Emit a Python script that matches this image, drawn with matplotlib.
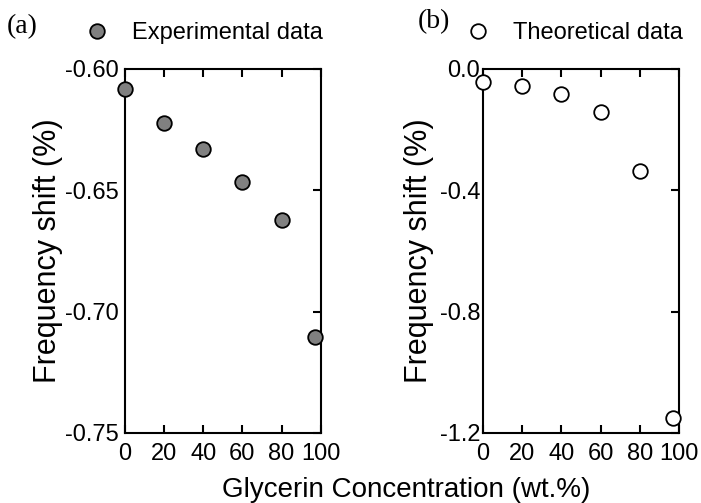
import matplotlib
matplotlib.use("Agg")
import matplotlib.pyplot as plt

# -----------------------------------
# Data
# -----------------------------------

conc = [0, 20, 40, 60, 80, 97]
exp_shift = [-0.6084, -0.6224, -0.6329, -0.6465, -0.6622, -0.7105]
theo_shift = [-0.042, -0.056, -0.083, -0.143, -0.335, -1.151]

x_ticks = [0, 20, 40, 60, 80, 100]
exp_ticks = [-0.60, -0.65, -0.70, -0.75]
theo_ticks = [0.0, -0.4, -0.8, -1.2]

plt.rcParams["font.family"] = ["Liberation Sans", "DejaVu Sans"]

fig = plt.figure(figsize=(7.01, 5.03), dpi=100)

ax_a = fig.add_axes([0.1783, 0.1392, 0.2792, 0.7237])
ax_b = fig.add_axes([0.6890, 0.1392, 0.2796, 0.7237])


def style_axes(ax, yticks, fmt, ypad, label_x):
    ax.set_xlim(0, 100)
    ax.set_xticks(x_ticks)
    ax.set_yticks(yticks)
    ax.set_yticklabels([fmt.format(v) for v in yticks])
    ax.set_ylim(min(yticks), max(yticks))
    ax.tick_params(
        direction="in", length=5.5, width=1.5, labelsize=17,
        top=True, bottom=True, left=False, right=True,
        labelleft=True, labelright=False
    )
    ax.tick_params(axis="x", pad=7)
    ax.tick_params(axis="y", pad=ypad)
    for sp in ax.spines.values():
        sp.set_linewidth(1.5)
    ax.set_ylabel("Frequency shift (%)", fontsize=22)
    ax.yaxis.label.set_verticalalignment("center")
    ax.yaxis.set_label_coords(label_x, 0.5)


# -----------------------------------
# (a) Experimental
# -----------------------------------

ax_a.plot(
    conc, exp_shift, "o", ls="none",
    markersize=10.5, markerfacecolor="#808080",
    markeredgecolor="black", markeredgewidth=1.3,
    clip_on=False, zorder=5, label="Experimental data"
)
style_axes(ax_a, exp_ticks, "{:.2f}", 4.5, -0.391)

# -----------------------------------
# (b) Theoretical
# -----------------------------------

ax_b.plot(
    conc, theo_shift, "o", ls="none",
    markersize=10.5, markerfacecolor="white",
    markeredgecolor="black", markeredgewidth=1.3,
    clip_on=False, zorder=5, label="Theoretical data"
)
style_axes(ax_b, theo_ticks, "{:.1f}", 2, -0.329)

# -----------------------------------
# Legends and labels
# -----------------------------------

for ax, x0 in [(ax_a, 85 / 701), (ax_b, 466 / 701)]:
    ax.legend(
        loc="center left", bbox_to_anchor=(x0, 0.934),
        bbox_transform=fig.transFigure, frameon=False,
        fontsize=17, handletextpad=1.0, handlelength=1.0,
        borderaxespad=0, borderpad=0
    )

fig.text(0.010, 0.947, "(a)", fontsize=20, family="Liberation Serif", va="center")
fig.text(0.596, 0.957, "(b)", fontsize=20, family="Liberation Serif", va="center")

fig.text(0.579, 0.011, "Glycerin Concentration (wt.%)", fontsize=20,
         ha="center", va="baseline")

fig.savefig("out.png", dpi=100)
